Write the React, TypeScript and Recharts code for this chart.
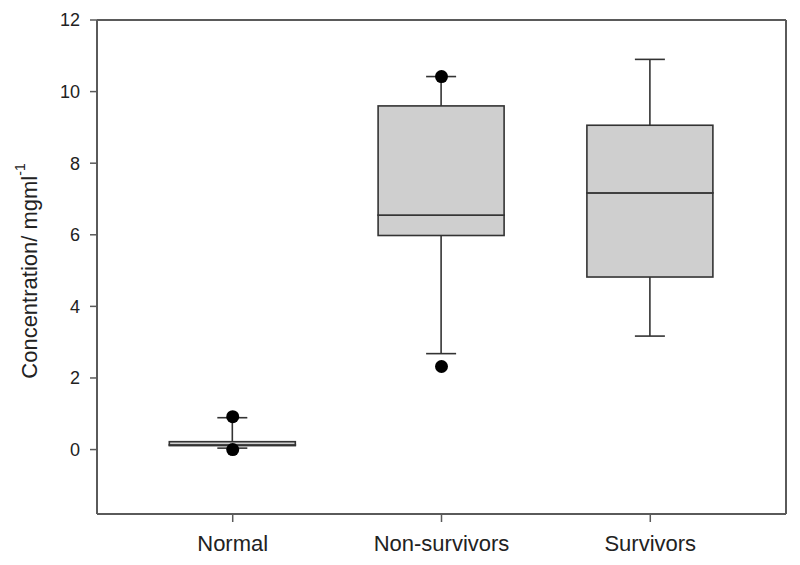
import React from 'react';
import {
  ComposedChart, Bar, Scatter, XAxis, YAxis, Label, ReferenceLine,
} from 'recharts';

const categories = ['Normal', 'Non-survivors', 'Survivors'];
const positions = [1, 2, 3];
const whiskerLow = [0.04, 2.68, 3.17];
const quartile1 = [0.11, 5.98, 4.82];
const medians = [0.13, 6.55, 7.17];
const quartile3 = [0.22, 9.6, 9.06];
const whiskerHigh = [0.89, 10.42, 10.9];
const outlierGroup = [1, 1, 2, 2];
const outlierValue = [0.92, 0.0, 10.42, 2.32];
const yTicks = [0, 2, 4, 6, 8, 10, 12];
const xDomain = [0.35, 3.65];
const yDomain = [-1.8, 12];

const boxData = positions.map((p, i) => ({
  pos: p,
  base: whiskerLow[i],
  lowW: quartile1[i] - whiskerLow[i],
  boxLow: medians[i] - quartile1[i],
  boxHigh: quartile3[i] - medians[i],
  highW: whiskerHigh[i] - quartile3[i],
}));

const outlierData = outlierGroup.map((g, i) => ({ pos: g, value: outlierValue[i] }));

const BOX_STROKE = '#333333';
const AXIS = '#5a5a5a';
const FONT = '"Liberation Sans", Arial, sans-serif';
const CAP = 30;

const Empty = () => <g />;

const BoxRect = (props: any) => {
  const { x, y, width, height } = props;
  return (
    <rect x={x} y={y} width={width} height={Math.max(height, 0)} fill="#cfcfcf" stroke={BOX_STROKE} strokeWidth={1.6} />
  );
};

const LowerWhisker = (props: any) => {
  const { x, y, width, height } = props;
  const cx = x + width / 2;
  return (
    <g stroke={BOX_STROKE} strokeWidth={1.6}>
      <line x1={cx} x2={cx} y1={y} y2={y + height} />
      <line x1={cx - CAP / 2} x2={cx + CAP / 2} y1={y + height} y2={y + height} />
    </g>
  );
};

const UpperWhisker = (props: any) => {
  const { x, y, width, height } = props;
  const cx = x + width / 2;
  return (
    <g stroke={BOX_STROKE} strokeWidth={1.6}>
      <line x1={cx} x2={cx} y1={y} y2={y + height} />
      <line x1={cx - CAP / 2} x2={cx + CAP / 2} y1={y} y2={y} />
    </g>
  );
};

const Dot = (props: any) => {
  const { cx, cy } = props;
  return <circle cx={cx} cy={cy} r={6.5} fill="#000" />;
};

const YLabel = (props: any) => {
  const vb = props.viewBox || { x: 0, y: 20, width: 97, height: 494 };
  const cx = vb.x + 29;
  const cy = vb.y + vb.height / 2 + 4;
  return (
    <text
      x={cx}
      y={cy}
      transform={`rotate(-90, ${cx}, ${cy})`}
      textAnchor="middle"
      dominantBaseline="central"
      fontSize={22}
      fontFamily={FONT}
      fill="#222"
    >
      Concentration/ mgml
      <tspan dy={-9} fontSize={14}>-1</tspan>
    </text>
  );
};

export default function App() {
  return (
    <div style={{ position: 'absolute', left: 0, top: 0, background: '#fff' }}>
      <ComposedChart
        width={800}
        height={565}
        data={boxData}
        margin={{ top: 20, right: 14, bottom: 0, left: 0 }}
      >
        <XAxis
          dataKey="pos"
          type="number"
          domain={xDomain}
          ticks={positions}
          allowDataOverflow
          tickFormatter={(v: number) => categories[positions.indexOf(v)] ?? ''}
          axisLine={{ stroke: AXIS, strokeWidth: 2 }}
          tickLine={{ stroke: AXIS, strokeWidth: 1.5 }}
          tickSize={8}
          tickMargin={13}
          tick={{ fontSize: 22, fontFamily: FONT, fill: '#222' }}
          height={51}
        />
        <YAxis
          type="number"
          domain={yDomain}
          ticks={yTicks}
          allowDataOverflow
          interval={0}
          axisLine={{ stroke: AXIS, strokeWidth: 2 }}
          tickLine={{ stroke: AXIS, strokeWidth: 1.5 }}
          tickSize={7}
          tickMargin={10}
          tick={{ fontSize: 18, fontFamily: FONT, fill: '#222' }}
          width={97}
        >
          <Label content={<YLabel />} />
        </YAxis>
        <ReferenceLine y={yDomain[1]} stroke={AXIS} strokeWidth={2} />
        <ReferenceLine x={xDomain[1]} stroke={AXIS} strokeWidth={2} />
        <Bar dataKey="base" stackId="box" barSize={126} shape={<Empty />} isAnimationActive={false} />
        <Bar dataKey="lowW" stackId="box" barSize={126} shape={<LowerWhisker />} isAnimationActive={false} />
        <Bar dataKey="boxLow" stackId="box" barSize={126} shape={<BoxRect />} isAnimationActive={false} />
        <Bar dataKey="boxHigh" stackId="box" barSize={126} shape={<BoxRect />} isAnimationActive={false} />
        <Bar dataKey="highW" stackId="box" barSize={126} shape={<UpperWhisker />} isAnimationActive={false} />
        <Scatter data={outlierData} dataKey="value" shape={<Dot />} isAnimationActive={false} />
      </ComposedChart>
    </div>
  );
}
